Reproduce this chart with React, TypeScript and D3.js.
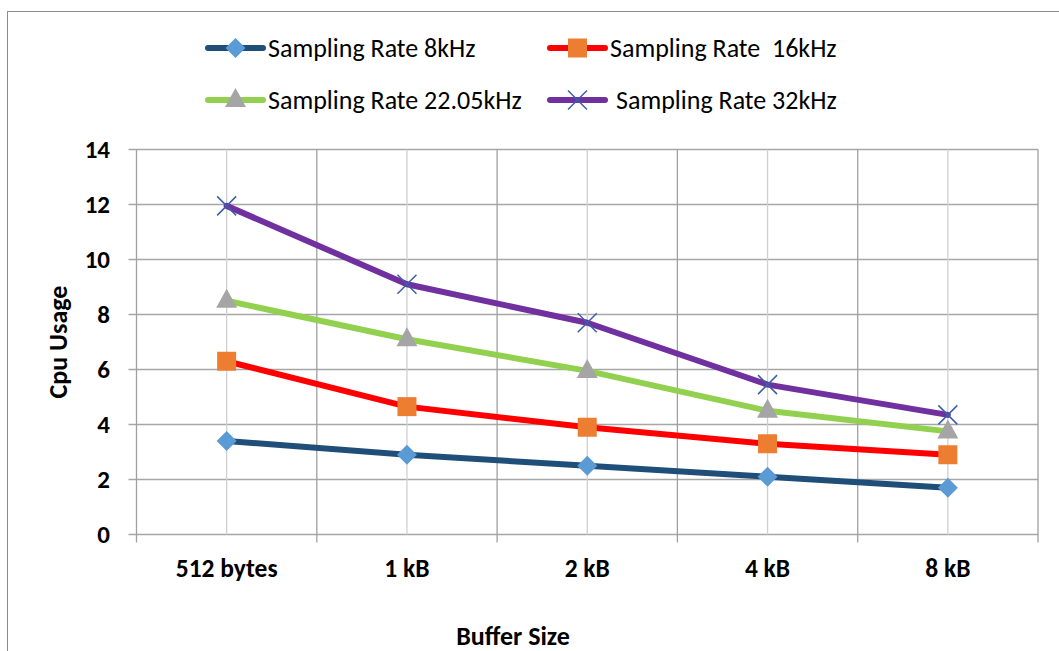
import React from "react";
import * as d3 from "d3";

const categories = ["512 bytes", "1 kB", "2 kB", "4 kB", "8 kB"];
const seriesNames = ["Sampling Rate 8kHz", "Sampling Rate  16kHz", "Sampling Rate 22.05kHz", "Sampling Rate 32kHz"];
const rate8 = [3.4, 2.9, 2.5, 2.1, 1.7];
const rate16 = [6.3, 4.65, 3.9, 3.3, 2.9];
const rate22 = [8.5, 7.1, 5.95, 4.5, 3.75];
const rate32 = [11.95, 9.1, 7.7, 5.45, 4.35];
const yTicks = [0, 2, 4, 6, 8, 10, 12, 14];

const W = 1059, H = 651;
const plot = { left: 136.5, right: 1038, top: 149.5, bottom: 534.5 };

const seriesStyles = [
  { line: "#1F4E79", marker: "#5B9BD5", shape: "diamond" },
  { line: "#FF0000", marker: "#ED7D31", shape: "square" },
  { line: "#92D050", marker: "#A5A5A5", shape: "triangle" },
  { line: "#7030A0", marker: "#3A5FA8", shape: "x" },
];

function Marker({ shape, color, x, y }: { shape: string; color: string; x: number; y: number }) {
  if (shape === "diamond") {
    const r = 10;
    return <path d={`M${x},${y - r}L${x + r},${y}L${x},${y + r}L${x - r},${y}Z`} fill={color} />;
  }
  if (shape === "square") {
    return <rect x={x - 9.5} y={y - 9.5} width={19} height={19} fill={color} />;
  }
  if (shape === "triangle") {
    return <path d={`M${x},${y - 12}L${x + 10.5},${y + 7}L${x - 10.5},${y + 7}Z`} fill={color} />;
  }
  const r = 9.5;
  return (
    <path d={`M${x - r},${y - r}L${x + r},${y + r}M${x - r},${y + r}L${x + r},${y - r}`} stroke={color} strokeWidth={1.5} fill="none" />
  );
}

export default function App() {
  const data = [rate8, rate16, rate22, rate32];
  const x = d3.scaleBand<string>().domain(categories).range([plot.left, plot.right]).padding(0);
  const y = d3.scaleLinear().domain([0, 14]).range([plot.bottom, plot.top]);
  const cx = (c: string) => (x(c) as number) + x.bandwidth() / 2;
  const line = d3
    .line<number>()
    .x((_, i) => cx(categories[i]))
    .y((d) => y(d));
  const font = "Carlito, Calibri, 'Open Sans', sans-serif";
  const boundaries = categories.map((c) => x(c) as number).concat([plot.right]);

  const legendItems = [
    { lx: 208, ly: 48, tx: 268 },
    { lx: 550, ly: 48, tx: 610 },
    { lx: 208, ly: 100, tx: 268 },
    { lx: 550, ly: 100, tx: 616 },
  ];

  return (
    <svg width={W} height={H} style={{ position: "absolute", left: 0, top: 0, background: "#fff" }} fontFamily={font}>
      <rect x={7.5} y={11.5} width={1070} height={700} fill="#fff" stroke="#8c8c8c" strokeWidth={1} />
      {/* horizontal gridlines */}
      {yTicks.map((t) => (
        <g key={t}>
          <line x1={plot.left - 8} x2={plot.right} y1={y(t)} y2={y(t)} stroke="#a6a6a6" strokeWidth={1.3} />
          <text x={110} y={y(t) + 8} textAnchor="end" fontSize={25} fontWeight="bold" fill="#000">
            {t}
          </text>
        </g>
      ))}
      {/* category center gridlines */}
      {categories.map((c) => (
        <line key={"c" + c} x1={cx(c)} x2={cx(c)} y1={plot.top} y2={plot.bottom} stroke="#d0d0d0" strokeWidth={1.3} />
      ))}
      {/* category boundary gridlines */}
      {boundaries.map((b, i) => (
        <line key={"b" + i} x1={b} x2={b} y1={plot.top} y2={plot.bottom + 8} stroke="#a0a0a0" strokeWidth={1.3} />
      ))}
      {categories.map((c) => (
        <text key={"t" + c} x={cx(c)} y={577} textAnchor="middle" fontSize={25.5} fontWeight="bold" fill="#000">
          {c}
        </text>
      ))}
      <text x={513} y={645} textAnchor="middle" fontSize={26} fontWeight="bold" fill="#000">
        Buffer Size
      </text>
      <text transform={`translate(67,342) rotate(-90)`} textAnchor="middle" fontSize={26} fontWeight="bold" fill="#000">
        Cpu Usage
      </text>
      {/* series lines */}
      {data.map((d, i) => (
        <path key={"l" + i} d={line(d) || ""} fill="none" stroke={seriesStyles[i].line} strokeWidth={6} strokeLinejoin="round" strokeLinecap="round" />
      ))}
      {data.map((d, i) =>
        d.map((v, j) => (
          <Marker key={`m${i}-${j}`} shape={seriesStyles[i].shape} color={seriesStyles[i].marker} x={cx(categories[j])} y={y(v)} />
        ))
      )}
      {/* legend */}
      {legendItems.map((li, i) => (
        <g key={"lg" + i}>
          <line x1={li.lx} x2={li.lx + 55} y1={li.ly} y2={li.ly} stroke={seriesStyles[i].line} strokeWidth={6} strokeLinecap="round" />
          <Marker shape={seriesStyles[i].shape} color={seriesStyles[i].marker} x={li.lx + 27.5} y={li.ly} />
          <text x={li.tx} y={li.ly + 9} fontSize={26} fill="#000" xmlSpace="preserve" style={{ whiteSpace: "pre" }}>
            {seriesNames[i]}
          </text>
        </g>
      ))}
    </svg>
  );
}
